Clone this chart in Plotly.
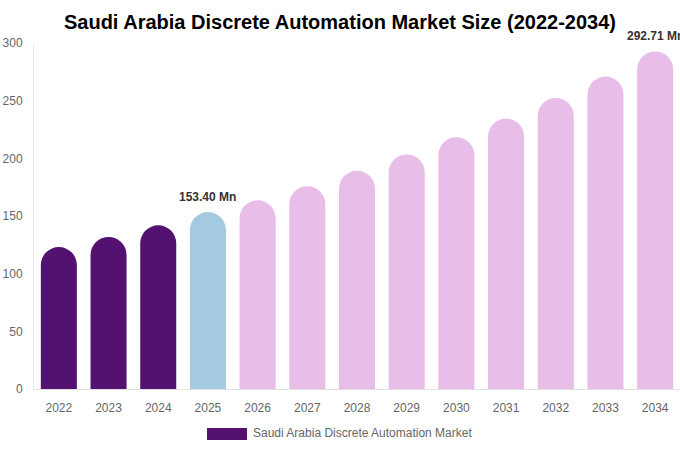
import plotly.graph_objects as go

years = ["2022", "2023", "2024", "2025", "2026", "2027", "2028",
         "2029", "2030", "2031", "2032", "2033", "2034"]
market_size = [123.1, 131.8, 141.9, 153.40, 163.6, 175.9, 189.2,
               203.4, 218.3, 234.5, 252.4, 270.9, 292.71]
bar_colors = ["#541270", "#541270", "#541270", "#A4CADF"] + ["#E8BDE8"] * 9
labelled = {"2025": "153.40 Mn", "2034": "292.71 Mn"}

fig = go.Figure()
fig.add_trace(go.Bar(
    x=years, y=market_size,
    marker=dict(color=bar_colors, cornerradius="50%", line=dict(width=0)),
    name="Saudi Arabia Discrete Automation Market",
    showlegend=False,
    hoverinfo="x+y",
))

for yr, txt in labelled.items():
    i = years.index(yr)
    # category axis: annotations take the category index, not the label
    fig.add_annotation(
        x=i, y=market_size[i], text="<b>" + txt + "</b>",
        showarrow=False, yshift=15,
        font=dict(size=12, color="#333333", family="Liberation Sans, Arial"),
    )

# legend drawn by hand to get the wide swatch
fig.add_shape(type="rect", xref="paper", yref="paper",
              x0=(207 - 34) / 646, x1=(247 - 34) / 646,
              y0=-(440 - 389) / 346, y1=-(428 - 389) / 346,
              fillcolor="#541270", line=dict(width=0))
fig.add_annotation(xref="paper", yref="paper",
                   x=(251 - 34) / 646, y=-(433 - 389) / 346,
                   xanchor="left", yanchor="middle", showarrow=False,
                   text="Saudi Arabia Discrete Automation Market",
                   font=dict(size=12, color="#666666"))

fig.update_layout(
    width=680, height=450,
    title=dict(text="<b>Saudi Arabia Discrete Automation Market Size (2022-2034)</b>",
               x=0.5, xanchor="center", y=0.952, yanchor="middle",
               font=dict(size=20, color="#000000", family="Liberation Sans, Arial")),
    font=dict(family="Liberation Sans, Arial", size=12, color="#666666"),
    plot_bgcolor="white", paper_bgcolor="white",
    margin=dict(l=34, r=0, t=43, b=61),
    bargap=0.275,
    showlegend=False,
    xaxis=dict(type="category", range=[-0.5, len(years) - 0.5], showgrid=False,
               showline=True, linecolor="#e0e0e0", linewidth=1,
               ticks="", ticklabelstandoff=8, tickfont=dict(size=12, color="#666666")),
    yaxis=dict(range=[0, 300], dtick=50, showgrid=False, zeroline=False,
               showline=True, linecolor="#ebebeb", linewidth=1,
               ticks="", ticklabelstandoff=8, tickfont=dict(size=12, color="#666666")),
)

fig.write_html("out.html", config={"displayModeBar": False},
               post_script="document.body.style.margin='0';")
